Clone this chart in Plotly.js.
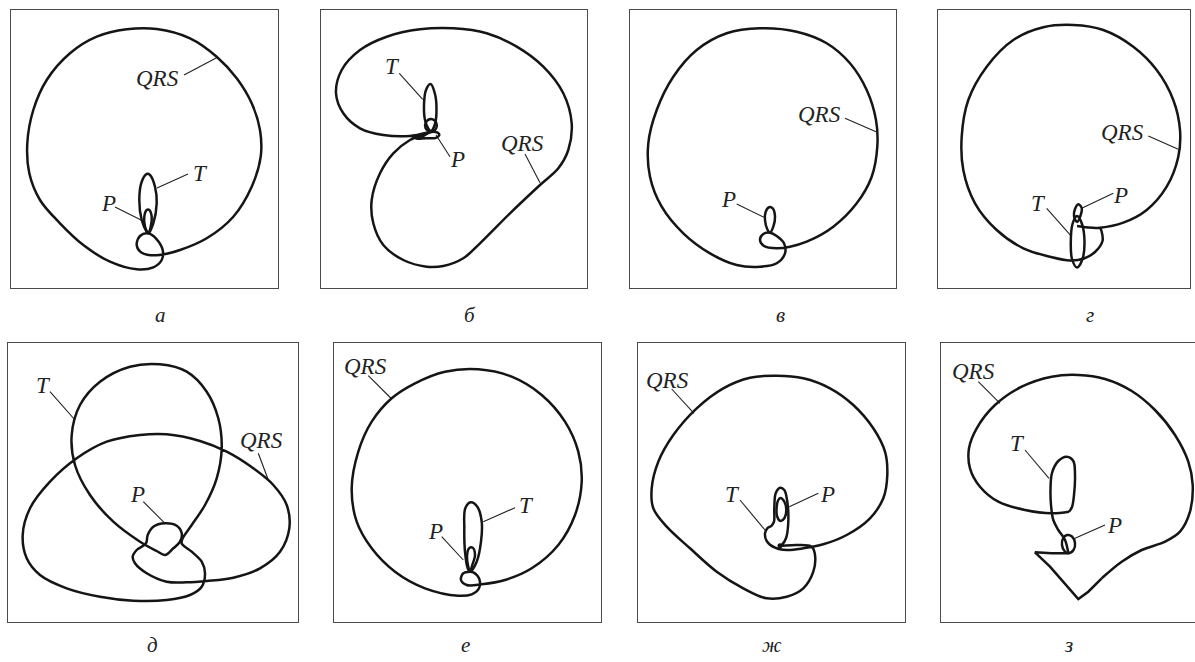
<!DOCTYPE html>
<html>
<head>
<meta charset="utf-8">
<script src="https://cdn.plot.ly/plotly-3.0.1.min.js"></script>
<style>html,body{margin:0;padding:0;background:#fff;}#chart{width:1195px;height:662px;}</style>
</head>
<body>
<div id="chart"></div>
<script>
// ---------- data: loop outlines (page pixel coordinates) ----------
const qrsA = [[148.3,233.3],[140,236],[136.7,245],[141.7,252.7],[156.7,255.3],[180,250],[206.7,238.3],[233.3,216.7],[251.7,186.7],[260.7,156.7],[260,130],[251.7,103.3],[236.7,78.3],[216.7,56.7],[190,38.3],[156.7,29],[126.7,29.3],[96.7,36.7],[70,53.3],[46.7,80],[33.3,110],[27.3,143.3],[29.3,173.3],[40,200],[60,223.3],[83.3,245],[110,261.7],[136.7,269.3],[153.3,267.3],[161.7,260],[162.7,250],[156.7,239.3],[148.3,233.3]];
const tA = [[148.3,233.3],[153.3,223.3],[156.7,203.3],[155,186.7],[150,175],[146.7,174],[141.7,181.7],[139.3,200],[141.7,220],[146.7,231.7],[148.3,233.3]];
const pA = [[148.3,233.3],[150.7,226.7],[151.7,216.7],[149.3,210],[146.7,210],[144.3,216.7],[145,226.7],[148.3,233.3]];

const qrsB = [[431.7,131.7],[410,136],[383.3,135],[360,128.3],[343.3,113.3],[336,93.3],[341.7,70],[360,50],[386.7,36.7],[420,29.3],[453.3,28.3],[486.7,33.3],[516.7,46.7],[543.3,66.7],[563.3,93.3],[571.7,123.3],[568.3,150],[558.3,168.3],[540,185],[510,213.3],[480,243.3],[463.3,258.3],[443.3,266],[426.7,266.7],[403.3,260],[383.3,245],[373.3,223.3],[371.7,200],[380,173.3],[393.3,153.3],[410,140],[426.7,133.3],[431.7,131.7]];
const tB = [[431,131],[435,124],[436.5,110],[435,94],[430.5,84],[426,90],[424,105],[425,120],[428,128],[431,131]];
const ringB = [[431,119],[435.5,121.5],[436.8,126],[434.5,130.5],[429.5,131.5],[425.5,128],[425.8,122.5],[431,119]];
const pB = [[431,132],[437,132.3],[439.3,135],[436,137.8],[426,138.3],[416,138.8],[424,135.5],[431,132]];

const qrsV = [[770,232.7],[763.3,234],[760,240],[764,246],[776.7,248.3],[790,246.7],[806.7,241.7],[833.3,226.7],[856.7,203.3],[871.7,176.7],[877.3,146.7],[876,120],[866.7,90],[850,63.3],[826.7,43.3],[796.7,31.7],[760,28.3],[726.7,33.3],[696.7,50],[673.3,76.7],[656.7,110],[648.3,143.3],[650,176.7],[661.7,206.7],[683.3,233.3],[710,253.3],[736.7,265],[760,266.7],[776.7,263.3],[785,253.3],[784,243.3],[776.7,236],[770,232.7]];
const pV = [[770,232.7],[773.3,226.7],[775,216.7],[772.7,208.3],[769,207.3],[765.7,211.7],[765,220],[767.3,229.3],[770,232.7]];

const qrsG = [[1077,226],[1088,227.5],[1100,227.7],[1123.3,222.7],[1146.7,210],[1166.7,186.7],[1178.3,156.7],[1180,130],[1173.3,100],[1156.7,70],[1133.3,46.7],[1103.3,30],[1073.3,25],[1043.3,27.3],[1013.3,40],[986.7,66.7],[968.3,100],[961.7,136.7],[963.3,170],[975,203.3],[996.7,230],[1023.3,248.3],[1050,256.7],[1070,260.5],[1084,258.5],[1095,252],[1102.5,241],[1101.5,231],[1100,227.7]];
const tG = [[1077,216],[1082,224],[1084.5,242],[1082.5,259],[1077,267.5],[1072,259],[1070.8,242],[1072.5,224],[1077,216]];
const pG = [[1077,222],[1074,216],[1075,209],[1078.3,204.3],[1081.7,208],[1080.7,215],[1077,222]];

const loopD = [[181.7,543.3],[182.7,538.3],[191.7,525],[205,505],[216.7,478.3],[221.7,448.3],[218.3,418.3],[206.7,391.7],[186.7,371.7],[160,364.3],[130,366.7],[100,381.7],[80,405],[71.7,435],[75,465],[90,495],[113.3,521.7],[140,541.7],[156.7,551],[165,555],[173.3,548.3],[180,541.7],[181.7,533.3],[176.7,525.7],[165,523.3],[153.3,526.7],[147.7,535],[146,543.3],[136.7,550],[132.7,556.7],[135,563.3],[146.7,573.3],[166.7,581.7],[186.7,582.3],[206.7,581],[233.3,577.7],[260,568.3],[280,551.7],[289.3,528.3],[286.7,505],[273.3,485],[253.3,468.3],[226.7,451.7],[200,441],[166.7,434.3],[140,435],[106.7,441.7],[76.7,458.3],[50,481.7],[30,508.3],[22.7,535],[26.7,558.3],[40,575],[66.7,588.3],[100,596.7],[133.3,600.7],[166.7,600],[190,595],[201.7,586.7],[205,573.3],[201.7,561.7],[191.7,551.7],[181.7,543.3]];

const qrsE = [[470,571.7],[463.3,573.3],[461,580],[466.7,585],[481.7,584.3],[505,580],[531.7,568.3],[558.3,545],[575,515],[581.7,481.7],[578.3,451.7],[565,421.7],[541.7,395],[511.7,376.7],[478.3,369.3],[445,371.7],[415,383.3],[391.7,398.3],[371.7,421.7],[358.3,451.7],[351.7,488.3],[356.7,521.7],[371.7,548.3],[395,571.7],[425,588.3],[458.3,595.7],[471.7,594.3],[479,588.3],[479,578.3],[473.3,572.3],[470,571.7]];
const tE = [[470,571.7],[476.7,561.7],[481,541.7],[481.7,521.7],[477.3,506.7],[470.7,502.3],[465.3,508.3],[464.3,528.3],[465,551.7],[467.7,568.3],[470,571.7]];
const pE = [[470,571.7],[472.3,565],[475,555],[472.7,547.7],[469,548.3],[467,556.7],[468.3,566.7],[470,571.7]];

const qrsZh = [[780,545.7],[796.7,545],[811.7,546.7],[815,555],[813.3,571.7],[803.3,588.3],[786.7,596.7],[766.7,598.3],[743.3,588.3],[716.7,571.7],[690,548.3],[666.7,526.7],[653.3,508.3],[651.7,488.3],[658.3,461.7],[673.3,435],[696.7,408.3],[723.3,388.3],[750,377.7],[776.7,375.7],[803.3,378.3],[830,388.3],[853.3,405],[873.3,428.3],[885,451.7],[887.3,475],[883.3,498.3],[870,518.3],[846.7,535],[823.3,544.3],[803.3,548.3],[786.7,550],[775,547.7],[766.7,541],[765,533.3],[767.3,528.3],[771.7,525.7],[774,521.7],[774.3,508.3],[775.7,493.3],[780,487.7],[784.3,490],[787.3,501.7],[788.3,521.7],[786,538.3],[781.7,545],[780,545.7]];
const innerPZh = [[780.5,498],[784.5,502],[786.3,510],[784.5,518],[780.5,521],[777,516],[776.7,507],[778,500.5],[780.5,498]];
const dotZh = [[780,545.7]];

const qrsZ = [[1069,511.7],[1051.7,513.3],[1025,510],[998.3,501.7],[980,486.7],[970,468.3],[969,448.3],[976.7,428.3],[995,405],[1021.7,386.7],[1051.7,376.7],[1078.3,375],[1105,379],[1131.7,391],[1155,410],[1175,435],[1188.3,461.7],[1192.7,485],[1190,511.7],[1180,531.7],[1165,541.7],[1141.7,550],[1121.7,561.7],[1101.7,578.3]];
const qrsZlow = [[1101.7,578.3],[1088.3,591.7],[1078.3,599],[1065,583.3],[1050,566.7],[1035,552.3],[1051.7,553.3],[1068.3,553.3]];
const tZ = [[1068.3,553.3],[1065,540],[1058.3,530],[1053.3,520],[1051,505],[1050.5,490],[1052,473],[1058.3,461],[1066.7,456.7],[1073.3,461],[1075,475],[1074,495],[1072,507],[1069,511.7]];
const pZ = [[1068.3,553.3],[1073.5,550],[1075,543],[1072,536.5],[1067,535],[1063,538.5],[1062,545],[1064.5,551],[1068.3,553.3]];

// ---------- labels: text, centre, leader line ----------
const labelText = ['QRS','T','P', 'T','P','QRS', 'QRS','P', 'QRS','T','P', 'T','QRS','P', 'QRS','T','P', 'QRS','T','P', 'QRS','T','P'];
const labelPos = [[157.5,78],[200,173.3],[108,203.3], [392.3,66.7],[457.3,159.3],[522.3,143.3], [819.3,114],[728.3,200], [1122.7,132.7],[1038.3,203.3],[1120.7,196], [43.7,385],[261.7,441],[137.3,494.3], [365,366.7],[526.7,505.7],[435.7,531.7], [667.3,380],[732.3,494.3],[827.3,494.3], [973,371.7],[1017.3,443.3],[1114,525]];
const leaders = [[184,75,218,57],[157,188,188,174],[115,207,143,221], [399.3,73.3,422.7,99.3],[436,135,450,156.7],[525,154,540,182.7], [845,118.3,876,131.7],[736.7,204,764,217.3], [1148.3,136,1178.3,149.3],[1046.7,208.3,1071.7,236.7],[1081.7,208.3,1113.3,193.3], [50,391.7,75,420],[258.3,453.3,268.3,480],[143.3,501.7,165,523.3], [368.3,375.7,391.7,399],[483.3,521.7,515,507.7],[441.7,536.7,463.3,560], [671.7,389,694,413.3],[740,500,765,530],[789.3,506.7,818.3,493.3], [978.3,381.7,1000,403.3],[1025,450,1049,478.3],[1075,538.3,1105,525]];
const captions = ['а','б','в','г','д','е','ж','з'];
const captionPos = [[160,315],[470,315],[780,315],[1090,315],[152,645],[466,645],[772,645],[1068,645]];

// ---------- layout config ----------
const W = 1195, H = 662;
const frames = [[11,278,10,288],[321,587,10,288],[630,896,10,288],[938,1190,10,288],[8,298,343,622],[334,601,343,622],[638,905,343,622],[941,1205,343,622]];
const panelLoops = [[qrsA,tA,pA],[qrsB,tB,ringB,pB],[qrsV,pV],[qrsG,tG,pG],[loopD],[qrsE,tE,pE],[qrsZh,innerPZh],[qrsZ,qrsZlow,tZ,pZ]];
const linearLoops = new Set([qrsZlow]);

const ink = '#151515';
const serif = 'Liberation Serif';
const traces = [];
const layout = {
  width: W, height: H, margin: {l:0,r:0,t:0,b:0},
  paper_bgcolor: '#fff', plot_bgcolor: 'rgba(0,0,0,0)', showlegend: false,
  xaxis: {domain:[0,1], range:[0,W], visible:false, fixedrange:true},
  yaxis: {domain:[0,1], range:[H,0], visible:false, fixedrange:true},
  annotations: [], shapes: []
};

frames.forEach((f, i) => {
  const k = i + 2;
  const x1 = Math.min(f[1], W);
  const clipped = f[1] > W;
  layout['xaxis'+k] = {domain:[f[0]/W, x1/W], range:[f[0], x1], anchor:'y'+k,
    showline:true, mirror:true, linecolor:'#4a4a4a', linewidth:1.2,
    showgrid:false, zeroline:false, showticklabels:false, ticks:'', fixedrange:true};
  layout['yaxis'+k] = {domain:[1 - f[3]/H, 1 - f[2]/H], range:[f[3], f[2]], anchor:'x'+k,
    showline:true, mirror:!clipped, linecolor:'#4a4a4a', linewidth:1.2,
    showgrid:false, zeroline:false, showticklabels:false, ticks:'', fixedrange:true};
  panelLoops[i].forEach(loop => {
    traces.push({type:'scatter', mode:'lines', x: loop.map(p=>p[0]), y: loop.map(p=>p[1]),
      xaxis:'x'+k, yaxis:'y'+k, hoverinfo:'skip',
      line:{color:ink, width:2.5, shape: linearLoops.has(loop) ? 'linear' : 'spline', smoothing:1}});
  });
});
// dot in panel ж
traces.push({type:'scatter', mode:'markers', x: dotZh.map(p=>p[0]), y: dotZh.map(p=>p[1]),
  xaxis:'x8', yaxis:'y8', hoverinfo:'skip', marker:{color:ink, size:5}});

// leader lines
const lx = [], ly = [];
leaders.forEach(s => { lx.push(s[0], s[2], null); ly.push(s[1], s[3], null); });
traces.push({type:'scatter', mode:'lines', x: lx, y: ly, xaxis:'x', yaxis:'y', hoverinfo:'skip',
  line:{color:'#222', width:1.1}});

labelText.forEach((t, i) => {
  layout.annotations.push({xref:'paper', yref:'paper', x: labelPos[i][0]/W, y: 1 - labelPos[i][1]/H,
    text: '<i>'+t+'</i>', showarrow:false, xanchor:'center', yanchor:'middle', borderpad:0,
    font:{family:serif, size:23, color:'#222'}});
});
captions.forEach((t, i) => {
  layout.annotations.push({xref:'paper', yref:'paper', x: captionPos[i][0]/W, y: 1 - captionPos[i][1]/H,
    text: '<i>'+t+'</i>', showarrow:false, xanchor:'center', yanchor:'middle', borderpad:0,
    font:{family:serif, size:21, color:'#222'}});
});

Plotly.newPlot('chart', traces, layout, {staticPlot:true, displayModeBar:false});
</script>
</body>
</html>
